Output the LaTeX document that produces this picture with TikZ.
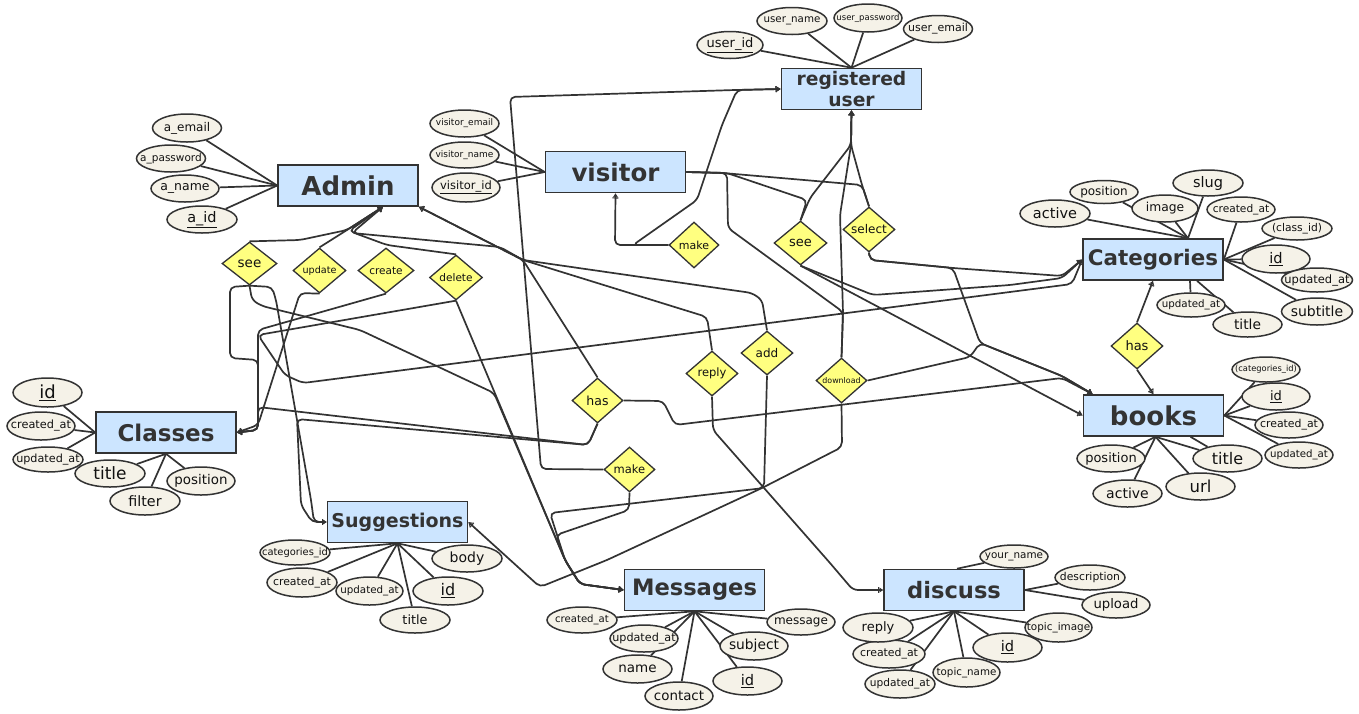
\documentclass[tikz,border=0pt]{standalone}
\usepackage{fontspec}
\setmainfont{DejaVu Sans}
\usetikzlibrary{arrows.meta,shapes.geometric,backgrounds}
\definecolor{edgec}{HTML}{333333}
\definecolor{entfill}{HTML}{CCE5FF}
\definecolor{attrfill}{HTML}{F5F2E8}
\definecolor{relfill}{HTML}{FFFF80}
\definecolor{textc}{HTML}{111111}
\definecolor{entc}{HTML}{333333}
\newcommand{\nbox}[1]{\makebox[0pt]{#1}}

\begin{document}
\begin{tikzpicture}[x=1pt, y=-1pt,
    entity/.style={rectangle, draw=edgec, line width=1.6pt, fill=entfill, minimum width=140pt,
                   minimum height=41pt, inner sep=1pt, align=center, text=entc,
                   font=\bfseries\fontsize{#1}{#1}\selectfont},
    attrib/.style={ellipse, draw=edgec, line width=1.5pt, fill=attrfill, minimum width=69pt,
                   minimum height=27pt, inner sep=0pt, text=textc, font=\fontsize{#1}{#1}\selectfont},
    attrib/.default=11,
    relship/.style={diamond, draw=edgec, line width=1.3pt, fill=relfill, minimum width=53pt,
                    minimum height=45pt, inner sep=0pt, text=textc, font=\fontsize{#1}{#1}\selectfont},
    relship/.default=11,
    conn/.style={draw=edgec, line width=1.7pt, rounded corners=5pt},
    card/.style={-{Bar[width=6pt,line width=1.2pt]Stealth[length=4pt,width=5pt,inset=1pt]}}
]
\useasboundingbox (0,0) rectangle (1359,713);

\node[entity=18.7, font=\bfseries\fontsize{18.7}{21}\selectfont] (ruser) at (851.5,89) {registered\\user};
\node[entity=26] (admin) at (348,185.5) {Admin};
\node[entity=24.5] (visitor) at (615.5,172) {visitor};
\node[entity=21.4] (cat) at (1153,259.5) {Categories};
\node[entity=26] (books) at (1153.5,415.5) {books};
\node[entity=23] (classes) at (166,432.5) {Classes};
\node[entity=19] (sugg) at (397.5,522) {Suggestions};
\node[entity=22.6] (msg) at (694.5,590) {Messages};
\node[entity=22.6] (disc) at (954,590) {discuss};

\node[attrib=13, minimum width=66pt] (uid) at (730,45) {\nbox{\underline{user\_id}}};
\node[attrib=10.3, minimum width=70pt] (uname) at (792,21) {\nbox{user\_name}};
\node[attrib=8.5, minimum width=68pt, minimum height=28pt] (upass) at (868,18) {\nbox{user\_password}};
\node[attrib=11] (uemail) at (938,29) {\nbox{user\_email}};

\node[attrib=12, minimum height=28pt] (aemail) at (187,128) {\nbox{a\_email}};
\node[attrib=10.5] (apass) at (171,158.5) {\nbox{a\_password}};
\node[attrib=12.5, minimum width=68pt] (aname) at (185,188.5) {\nbox{a\_name}};
\node[attrib=14.5, minimum width=70pt] (aid) at (202,219.5) {\nbox{\underline{a\_id}}};

\node[attrib=9] (vemail) at (464.5,123.5) {\nbox{visitor\_email}};
\node[attrib=9, minimum height=26pt] (vname) at (464.5,155) {\nbox{visitor\_name}};
\node[attrib=11.5, minimum width=68pt, minimum height=29pt] (vid) at (466,187.5) {\nbox{\underline{visitor\_id}}};

\node[attrib=14.5, minimum width=70pt] (cactive) at (1055,213.5) {\nbox{active}};
\node[attrib=12, minimum width=68pt, minimum height=23pt] (cposition) at (1104,192) {\nbox{position}};
\node[attrib=12.3, minimum width=66pt] (cimage) at (1165,208.5) {\nbox{image}};
\node[attrib=14.5, minimum width=70pt, minimum height=26pt] (cslug) at (1208,183) {\nbox{slug}};
\node[attrib=10.6, minimum width=68pt, minimum height=25pt] (ccreated) at (1241,209.5) {\nbox{created\_at}};
\node[attrib=10.7, minimum width=70pt, minimum height=23pt] (cclassid) at (1297,228.5) {\nbox{(class\_id)}};
\node[attrib=14.6, minimum width=68pt, minimum height=28pt] (cid) at (1276,259) {\nbox{\underline{id}}};
\node[attrib=11.5, minimum width=71pt, minimum height=24pt] (cupdated) at (1317,280) {\nbox{updated\_at}};
\node[attrib=14, minimum width=71pt] (csubtitle) at (1317,311.5) {\nbox{subtitle}};
\node[attrib=10.3, minimum width=68pt, minimum height=24pt] (cupdated2) at (1191,305) {\nbox{updated\_at}};
\node[attrib=13.8, minimum height=25pt] (ctitle) at (1247.5,324.5) {\nbox{title}};

\node[attrib=8.3, minimum width=68pt, minimum height=25pt] (bcatid) at (1266,369.5) {\nbox{(categories\_id)}};
\node[attrib=13, minimum width=68pt] (bid) at (1276,396.5) {\nbox{\underline{id}}};
\node[attrib=10.9, minimum width=68pt, minimum height=26pt] (bcreated) at (1289,425) {\nbox{created\_at}};
\node[attrib=10.2, minimum width=68pt, minimum height=26pt] (bupdated) at (1299,455) {\nbox{updated\_at}};
\node[attrib=16] (btitle) at (1227.5,458.5) {\nbox{title}};
\node[attrib=16.5] (burl) at (1200.5,486.5) {\nbox{url}};
\node[attrib=14] (bactive) at (1127.5,493.5) {\nbox{active}};
\node[attrib=13, minimum width=68pt] (bposition) at (1111,458.5) {\nbox{position}};

\node[attrib=18, minimum height=29pt] (clid) at (47.5,392.5) {\nbox{\underline{id}}};
\node[attrib=11.3, minimum width=68pt, minimum height=28pt] (clcreated) at (41,426) {\nbox{created\_at}};
\node[attrib=11.2, minimum width=70pt, minimum height=25pt] (clupdated) at (48,459.5) {\nbox{updated\_at}};
\node[attrib=17, minimum width=70pt] (cltitle) at (110,473.5) {\nbox{title}};
\node[attrib=14.3, minimum width=70pt, minimum height=28pt] (clfilter) at (145,501) {\nbox{filter}};
\node[attrib=13.4, minimum width=68pt, minimum height=28pt] (clposition) at (201,481) {\nbox{position}};

\node[attrib=9.9, minimum width=70pt, minimum height=25pt] (scatid) at (295,552.5) {\nbox{categories\_id}};
\node[attrib=10.9, minimum width=70pt, minimum height=29pt] (screated) at (302,582.5) {\nbox{created\_at}};
\node[attrib=10.3, minimum width=67pt, minimum height=28pt] (supdated) at (369.5,591) {\nbox{updated\_at}};
\node[attrib=16, minimum width=70pt, minimum height=28pt] (sid) at (448,591) {\nbox{\underline{id}}};
\node[attrib=12.8, minimum width=70pt, minimum height=26pt] (stitle) at (415,620) {\nbox{title}};
\node[attrib=14, minimum width=70pt] (sbody) at (467,558.5) {\nbox{body}};

\node[attrib=10.1, minimum width=70pt, minimum height=26pt] (mcreated) at (582,620) {\nbox{created\_at}};
\node[attrib=11.2, minimum width=68pt] (mupdated) at (644,638.5) {\nbox{updated\_at}};
\node[attrib=13.5, minimum height=28pt] (mname) at (637.5,669) {\nbox{name}};
\node[attrib=13.4, minimum width=68pt, minimum height=28pt] (mcontact) at (679,696) {\nbox{contact}};
\node[attrib=14.6, minimum height=28pt] (mid) at (747.5,681) {\nbox{\underline{id}}};
\node[attrib=13.8, minimum width=68pt, minimum height=28pt] (msubject) at (754,646) {\nbox{subject}};
\node[attrib=12, minimum width=68pt, minimum height=26pt] (mmessage) at (801,622) {\nbox{message}};

\node[attrib=10.4, minimum width=68pt, minimum height=23pt] (dyourname) at (1014,556.5) {\nbox{your\_name}};
\node[attrib=10.8, minimum width=70pt, minimum height=25pt] (ddesc) at (1090,577.5) {\nbox{description}};
\node[attrib=13.2, minimum width=68pt, minimum height=26pt] (dupload) at (1116,605) {\nbox{upload}};
\node[attrib=10.4, minimum width=67pt, minimum height=29pt] (dtopicimg) at (1058.5,627.5) {\nbox{topic\_image}};
\node[attrib=14.6, minimum height=29pt] (did) at (1007.5,647.5) {\nbox{\underline{id}}};
\node[attrib=10.3, minimum width=67pt, minimum height=29pt] (dtopicname) at (966.5,672.5) {\nbox{topic\_name}};
\node[attrib=10.6, minimum width=70pt, minimum height=28pt] (dupdated) at (900,684) {\nbox{updated\_at}};
\node[attrib=10.9, minimum width=72pt, minimum height=28pt] (dcreated) at (889,654) {\nbox{created\_at}};
\node[attrib=13, minimum width=70pt, minimum height=29pt] (dreply) at (878,627.5) {\nbox{reply}};

\node[relship=13.5, minimum width=55pt, minimum height=43pt] (see1) at (249.5,263.5) {\nbox{see}};
\node[relship=9.6] (update) at (319.5,270.5) {\nbox{update}};
\node[relship=10.5, minimum width=56pt] (create) at (386,270.5) {\nbox{create}};
\node[relship=10.5] (delete) at (456,277.5) {\nbox{delete}};
\node[relship=11, minimum width=50pt, minimum height=46pt] (make1) at (694,245) {\nbox{make}};
\node[relship=13, minimum height=44pt] (see2) at (800.5,243) {\nbox{see}};
\node[relship=12, minimum width=52pt] (select) at (869,229.5) {\nbox{select}};
\node[relship=13, minimum width=52pt, minimum height=46pt] (has2) at (1137,346) {\nbox{has}};
\node[relship=12, minimum width=52pt, minimum height=44pt] (add) at (767,353) {\nbox{add}};
\node[relship=11.5, minimum width=52pt] (reply) at (712,373.5) {\nbox{reply}};
\node[relship=7.9, minimum width=51pt] (download) at (841.5,380.5) {\nbox{download}};
\node[relship=12.5, minimum width=51pt] (has) at (597.5,400.5) {\nbox{has}};
\node[relship=11.5, minimum width=51pt] (make2) at (629.5,469.5) {\nbox{make}};

\begin{scope}[on background layer]
\fill[white] (0,0) rectangle (1359,713);

\foreach \a in {uid,uname,upass,uemail} \draw[conn] (\a) -- (ruser.north);
\foreach \a in {aemail,apass,aname,aid} \draw[conn] (\a) -- (admin.west);
\foreach \a in {vemail,vname,vid} \draw[conn] (\a) -- (visitor.west);
\foreach \a in {cactive,cposition,cimage,cslug} \draw[conn] (\a) -- ([xshift=35pt]cat.north);
\foreach \a in {ccreated,cclassid,cid,cupdated,csubtitle} \draw[conn] (\a) -- (cat.east);
\draw[conn] (cupdated2) -- ([xshift=37pt]cat.south); \draw[conn] (ctitle) -- ([xshift=44pt]cat.south);
\foreach \a in {bcatid,bid,bcreated,bupdated} \draw[conn] (\a) -- (books.east);
\foreach \a in {bposition,bactive,burl,btitle} \draw[conn] (\a) -- ([xshift=2pt]books.south);
\draw[conn] (btitle) -- ([xshift=37pt]books.south);
\foreach \a in {clid,clcreated,clupdated} \draw[conn] (\a) -- (classes.west);
\foreach \a in {cltitle,clfilter,clposition} \draw[conn] (\a) -- (classes.south);
\foreach \a in {scatid,screated,supdated,sid,stitle,sbody} \draw[conn] (\a) -- (sugg.south);
\foreach \a in {mcreated,mupdated,mname,mcontact,mid,msubject,mmessage} \draw[conn] (\a) -- (msg.south);
\draw[conn] (dyourname) -- ([xshift=3pt]disc.north);
\foreach \a in {ddesc,dupload} \draw[conn] (\a) -- (disc.east);
\foreach \a in {dtopicimg,did,dtopicname,dupdated,dcreated,dreply} \draw[conn] (\a) -- (disc.south);

\draw[conn, card] (make2.west) -- (541,469) -- (510,97) -- (735,90) -- (ruser.west);
\draw[conn, card] (make1.west) -- (633,245) -- (697,200) -- (722,125) -- (737,90) -- (ruser.west);
\draw[conn, card] (make1.west) -- (615,245) -- (visitor.south);
\draw[conn, card] (see2.north) -- (810,198) -- (851,145) -- (ruser.south);
\draw[conn, card] (select.north) -- (862,185) -- (851,145) -- (ruser.south);
\draw[conn, card] (download.north) -- (843,312) -- (840,215) -- (851,145) -- (ruser.south);

\draw[conn] (visitor.east) -- (723,173) -- (862,185) -- (select.north);
\draw[conn] (visitor.east) -- (727,173) -- (807,200) -- (see2.north);
\draw[conn] (visitor.east) -- (727,173) -- (728,228) -- (843,312) -- (download.north);

\draw[conn, card] (see2.south) -- (873,295) -- (1010,285) -- (1062,278) -- (cat.west);
\draw[conn, card] (see2.south) -- (books.west);
\draw[conn, card] (select.south) -- (870,260) -- (953,268) -- (1062,276) -- (cat.west);
\draw[conn, card] (select.south) -- (870,260) -- (953,268) -- (980,343) -- (1062,376) -- ([xshift=10pt]books.north west);
\draw[conn, card] (download.east) -- (970,357) -- (980,343) -- (1062,376) -- ([xshift=10pt]books.north west);
\draw[conn, card] (has.east) -- (663,401) -- (675,425) -- (1062,378) -- ([xshift=10pt]books.north west);
\draw[conn, card] (has2.north) -- (cat.south); \draw[conn, card] (has2.south) -- (books.north);

\draw[conn, card] (see1.north) -- (300,240) -- (347,230) -- ([xshift=35pt]admin.south);
\draw[conn, card] (update.north) -- (347,230) -- ([xshift=35pt]admin.south);
\draw[conn, card] (delete.north) -- (387,245) -- (349,231) -- ([xshift=35pt]admin.south);
\draw[conn, card] (reply.north) -- (707,317) -- (523,260) -- (500,247) -- (352,233) -- ([xshift=35pt]admin.south);
\draw[conn, card] (add.north) -- (762,300) -- (752,293) -- (523,260) -- (admin.south east);
\draw[conn, card] (has.north) -- (523,260) -- (admin.south east);

\draw[conn, card] (create.south) -- (258,330) -- (258,430) -- (classes.east);
\draw[conn, card] (update.south) -- (300,293) -- (258,425) -- (classes.east);
\draw[conn, card] (see1.south) -- (230,287) -- (230,358) -- (258,360) -- (258,430) -- (classes.east);
\draw[conn, card] (has.south) -- (588,445) -- (258,407) -- (258,430) -- (classes.east);
\draw[conn, card] (delete.south) -- (258,335) -- (285,375) -- (303,383) -- (1072,284) -- (cat.west);

\draw[conn, card] (see1.south) -- (272,287) -- (276,300) -- (311,500) -- (314,522) -- (sugg.west);
\draw[conn, card] (has.south) -- (588,445) -- (297,419) -- (301,505) -- (312,522) -- (sugg.west);
\draw[conn, card] (download.south) -- (842,447) -- (762,488) -- (607,560) -- (540,587) -- (sugg.east);

\draw[conn, card] (see1.south) -- (252,300) -- (262,306) -- (360,330) -- (494,393) -- (565,560) -- (580,584) -- (msg.west);
\draw[conn, card] (delete.south) -- (565,560) -- (580,584) -- (msg.west);
\draw[conn, card] (make2.south) -- (629,510) -- (556,535) -- (565,560) -- (580,584) -- (msg.west);
\draw[conn, card] (add.south) -- (764,488) -- (550,513) -- (565,560) -- (580,584) -- (msg.west);

\draw[conn, card] (reply.south) -- (713,430) -- (830,563) -- (853,590) -- (disc.west);
\end{scope}
\end{tikzpicture}
\end{document}
